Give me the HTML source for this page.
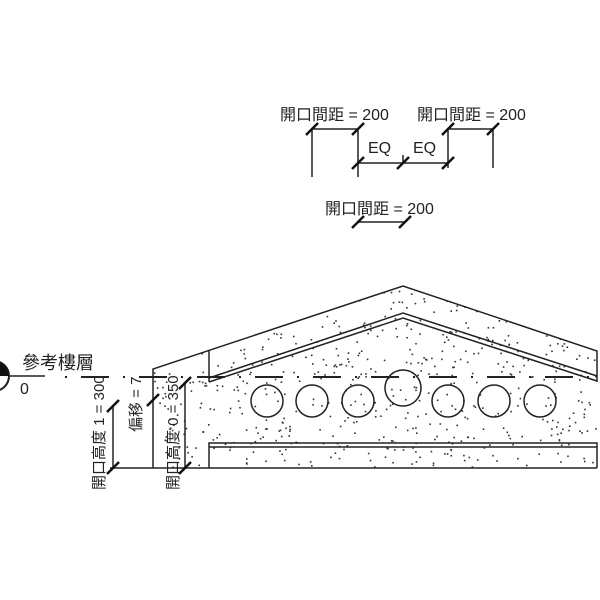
<!DOCTYPE html>
<html><head><meta charset="utf-8"><style>
html,body{margin:0;padding:0;background:#fff;}
svg{display:block;}
text{font-family:"Liberation Sans","Noto Sans CJK TC",sans-serif;fill:#222;}
</style></head><body>
<svg id="s" width="600" height="600" viewBox="0 0 600 600" xmlns="http://www.w3.org/2000/svg">
<defs>
<clipPath id="c1"><path d="M153,369 L403,286 L597,351 L597,468 L153,468 Z"/></clipPath>
</defs>
<g id="dots" clip-path="url(#c1)" fill="#333"></g>
<g stroke="#222" stroke-width="1.5" fill="none">
<path d="M153,468 L153,369 L403,286 L597,351 L597,382"/>
<path d="M209,350 L209,382"/>
<path d="M209,378 L403,313 L597,376"/>
<path d="M209,382 L403,318 L597,381"/>
<path d="M209,468 L209,443 L597,443 L597,468"/>
<path d="M209,447 L597,447"/>
<path d="M110,468 L597,468"/>
<circle cx="267" cy="401" r="16"/>
<circle cx="312" cy="401" r="16"/>
<circle cx="358" cy="401" r="16"/>
<circle cx="403" cy="388" r="18"/>
<circle cx="448" cy="401" r="16"/>
<circle cx="494" cy="401" r="16"/>
<circle cx="540" cy="401" r="16"/>
<path d="M113,406 L113,468"/>
<path d="M185,383 L185,468"/>
</g>
<path d="M0,376 L45,376" stroke="#222" stroke-width="1.5"/>
<path d="M65,377 L600,377" stroke="#222" stroke-width="2" stroke-dasharray="2,14,28,14"/>
<circle cx="-6" cy="376" r="15" fill="#fff" stroke="#222" stroke-width="2"/>
<path d="M-6,361 A15,15 0 0 1 9,376 L-6,376 Z" fill="#111"/>
<text x="22" y="369" font-size="18">參考樓層</text>
<text x="20" y="394" font-size="16">0</text>
<text transform="translate(104,490) rotate(-90)" font-size="15">開口高度 1 = 300</text>
<text transform="translate(141,432) rotate(-90)" font-size="15">偏移 = 7</text>
<text transform="translate(178,490) rotate(-90)" font-size="15">開口高度 0 = 350</text>
<g stroke="#222" stroke-width="1.5" fill="none">
<path d="M312,129 L358,129 M312,129 L312,177 M358,129 L358,177"/>
<path d="M358,163 L448,163 M403,155 L403,163"/>
<path d="M448,129 L493,129 M448,129 L448,168 M493,129 L493,168"/>
<path d="M358,222 L405,222"/>
</g>
<g stroke="#111" stroke-width="2.5">
<path d="M306,135 L318,123 M352,135 L364,123 M352,169 L364,157 M397,169 L409,157 M442,169 L454,157 M442,135 L454,123 M487,135 L499,123 M352,228 L364,216 M399,228 L411,216"/>
<path d="M107,412 L119,400 M107,474 L119,462 M147,406 L159,394 M179,389 L191,377 M179,474 L191,462"/>
</g>
<text x="280" y="120" font-size="16">開口間距 = 200</text>
<text x="417" y="120" font-size="16">開口間距 = 200</text>
<text x="368" y="153" font-size="16">EQ</text>
<text x="413" y="153" font-size="16">EQ</text>
<text x="325" y="214" font-size="16">開口間距 = 200</text>
</svg>
<script>
var g=document.getElementById('dots'),s=12345;
function r(){s=(s*1103515245+12345)%2147483648;return s/2147483648;}
var h='';
for(var i=0;i<650;i++){var x=153+r()*444,y=286+r()*182;h+='<rect x="'+x.toFixed(1)+'" y="'+y.toFixed(1)+'" width="1.6" height="1.6"/>';}
g.innerHTML=h;
</script>
</body></html>
